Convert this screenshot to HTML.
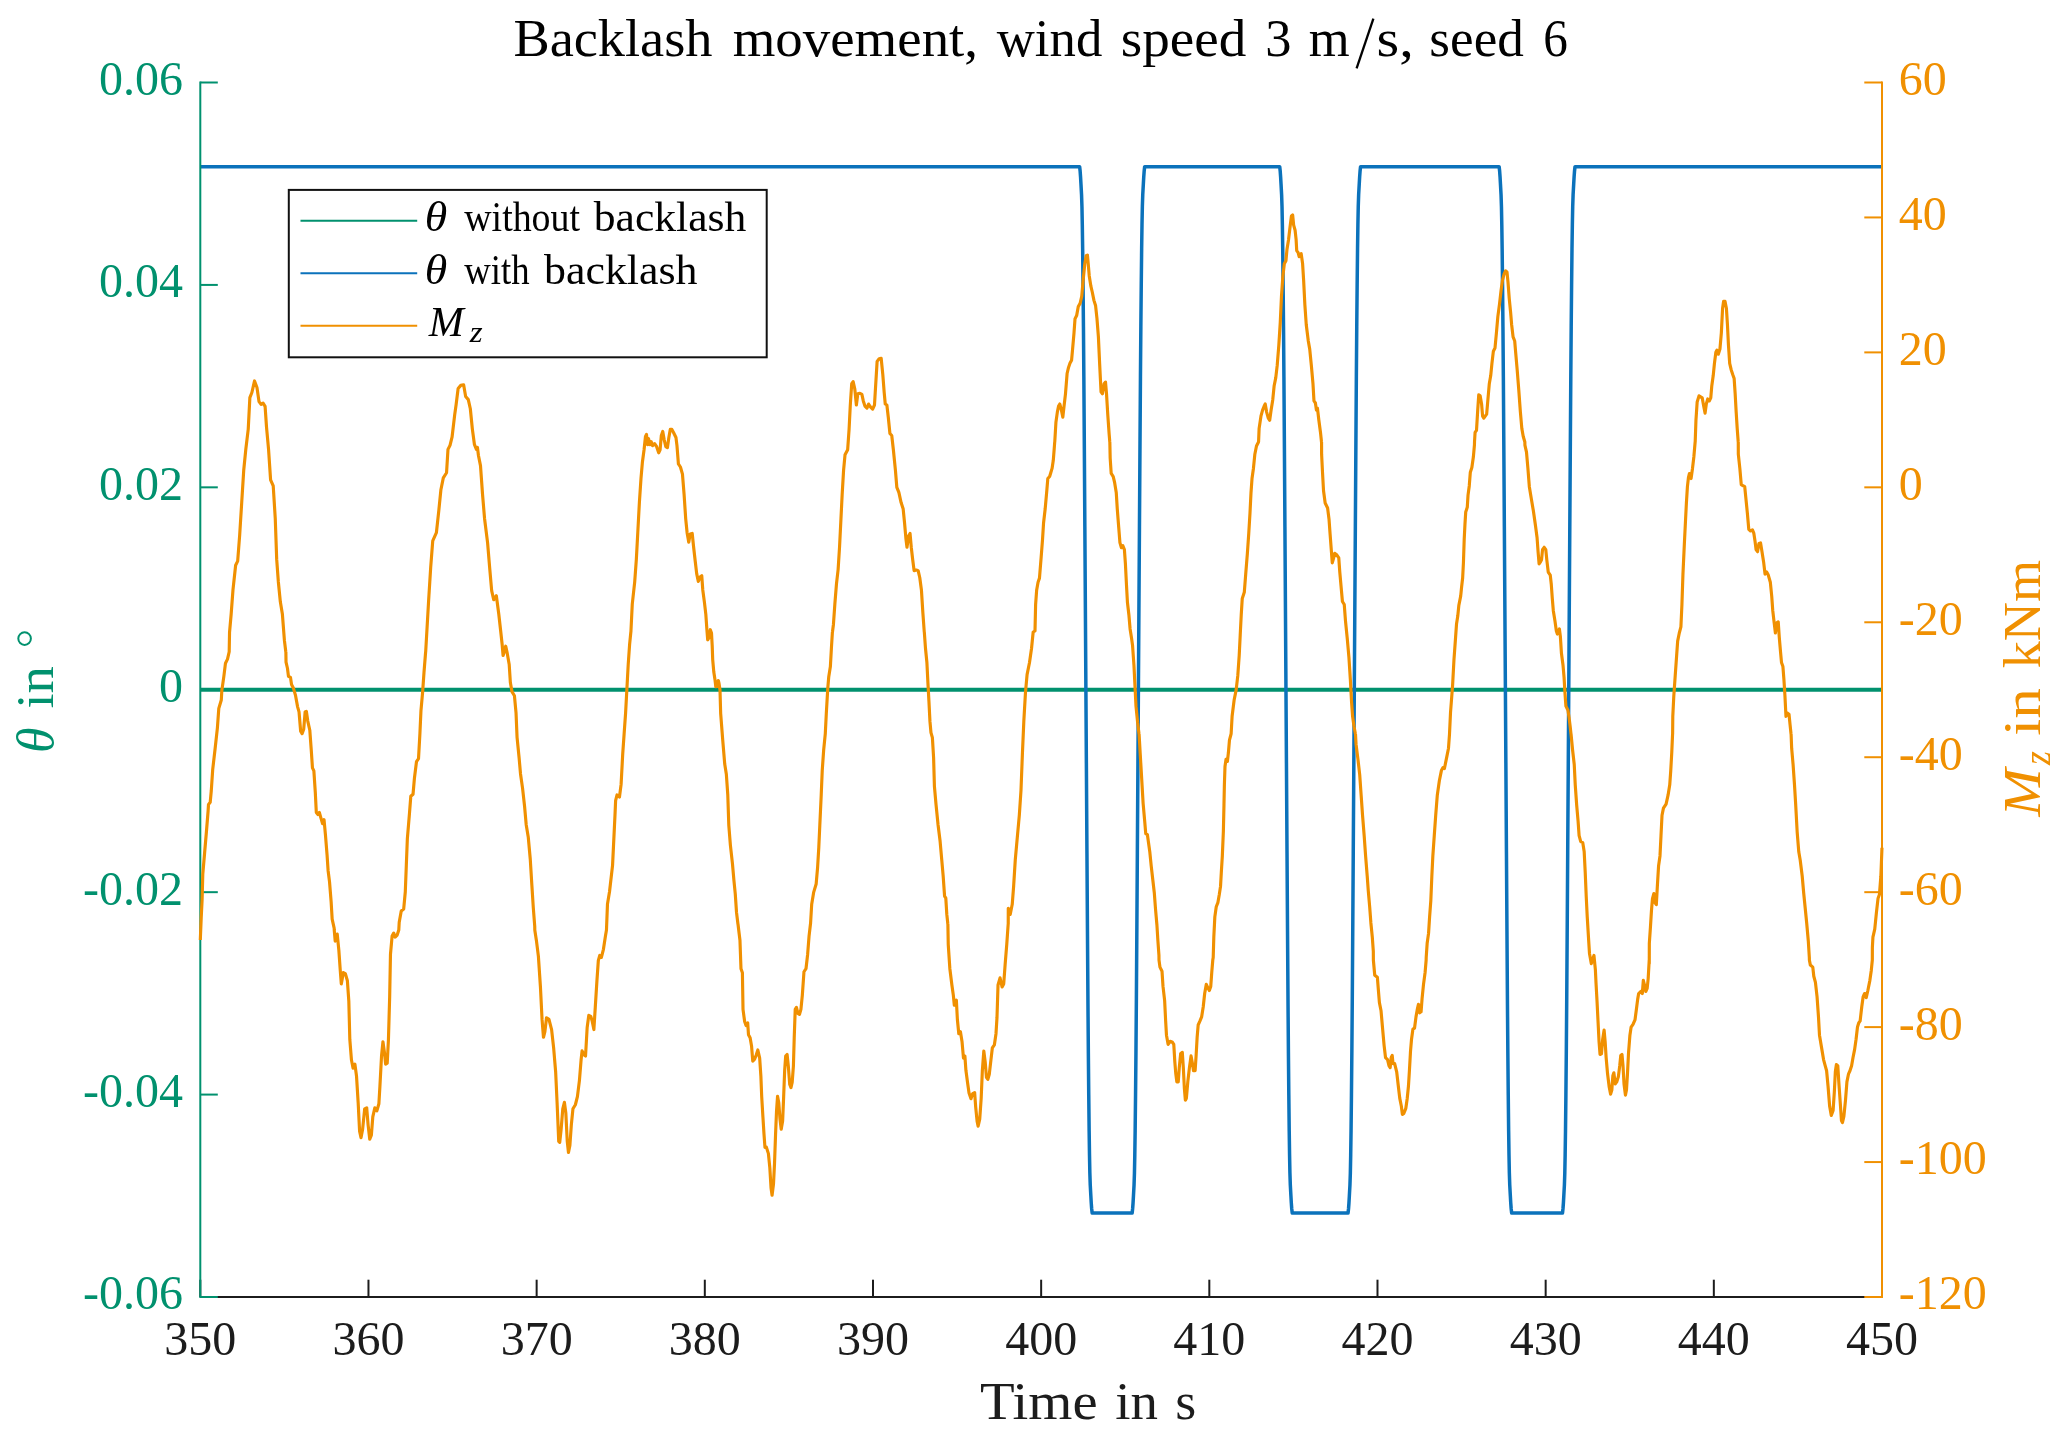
<!DOCTYPE html>
<html><head><meta charset="utf-8"><title>Backlash movement</title>
<style>html,body{margin:0;padding:0;background:#fff;}body{width:2067px;height:1437px;overflow:hidden;font-family:"Liberation Serif",serif;}</style>
</head><body>
<div id="fig" style="width:2067px;height:1437px;will-change:transform;opacity:0.999">
<svg width="2067" height="1437" viewBox="0 0 2067 1437" style="display:block">
<rect width="2067" height="1437" fill="#fff"/>
<g stroke="#1c1c1c" stroke-width="2" fill="none">
<line x1="200.3" y1="1297.0" x2="1882.0" y2="1297.0"/>
<line x1="200.30" y1="1297.0" x2="200.30" y2="1279.7"/>
<line x1="368.47" y1="1297.0" x2="368.47" y2="1279.7"/>
<line x1="536.64" y1="1297.0" x2="536.64" y2="1279.7"/>
<line x1="704.81" y1="1297.0" x2="704.81" y2="1279.7"/>
<line x1="872.98" y1="1297.0" x2="872.98" y2="1279.7"/>
<line x1="1041.15" y1="1297.0" x2="1041.15" y2="1279.7"/>
<line x1="1209.32" y1="1297.0" x2="1209.32" y2="1279.7"/>
<line x1="1377.49" y1="1297.0" x2="1377.49" y2="1279.7"/>
<line x1="1545.66" y1="1297.0" x2="1545.66" y2="1279.7"/>
<line x1="1713.83" y1="1297.0" x2="1713.83" y2="1279.7"/>
<line x1="1882.00" y1="1297.0" x2="1882.00" y2="1279.7"/>
</g>
<line x1="200.3" y1="689.65" x2="1882.0" y2="689.65" stroke="#00916e" stroke-width="4"/>
<path d="M200.30,166.80 L1079.65,166.80 L1080.15,171.30 L1080.55,176.80 L1080.95,183.80 L1081.55,194.80 L1081.95,206.80 L1082.30,224.80 L1082.65,248.80 L1083.05,284.80 L1083.45,326.80 L1083.85,376.80 L1084.35,449.80 L1084.85,526.80 L1085.90,689.90 L1086.95,853.00 L1087.45,930.00 L1087.95,1003.00 L1088.35,1053.00 L1088.75,1095.00 L1089.15,1131.00 L1089.50,1155.00 L1089.85,1173.00 L1090.25,1185.00 L1090.85,1196.00 L1091.25,1203.00 L1091.65,1208.50 L1092.15,1213.00 L1132.15,1213.00 L1132.65,1208.50 L1133.05,1203.00 L1133.45,1196.00 L1134.05,1185.00 L1134.45,1173.00 L1134.80,1155.00 L1135.15,1131.00 L1135.55,1095.00 L1135.95,1053.00 L1136.35,1003.00 L1136.85,930.00 L1137.35,853.00 L1138.40,689.90 L1139.45,526.80 L1139.95,449.80 L1140.45,376.80 L1140.85,326.80 L1141.25,284.80 L1141.65,248.80 L1142.00,224.80 L1142.35,206.80 L1142.75,194.80 L1143.35,183.80 L1143.75,176.80 L1144.15,171.30 L1144.65,166.80 L1279.72,166.80 L1280.22,171.30 L1280.62,176.80 L1281.02,183.80 L1281.62,194.80 L1282.02,206.80 L1282.37,224.80 L1282.72,248.80 L1283.12,284.80 L1283.52,326.80 L1283.92,376.80 L1284.42,449.80 L1284.92,526.80 L1285.97,689.90 L1287.02,853.00 L1287.52,930.00 L1288.02,1003.00 L1288.42,1053.00 L1288.82,1095.00 L1289.22,1131.00 L1289.57,1155.00 L1289.92,1173.00 L1290.32,1185.00 L1290.92,1196.00 L1291.32,1203.00 L1291.72,1208.50 L1292.22,1213.00 L1348.05,1213.00 L1348.55,1208.50 L1348.95,1203.00 L1349.35,1196.00 L1349.95,1185.00 L1350.35,1173.00 L1350.70,1155.00 L1351.05,1131.00 L1351.45,1095.00 L1351.85,1053.00 L1352.25,1003.00 L1352.75,930.00 L1353.25,853.00 L1354.30,689.90 L1355.35,526.80 L1355.85,449.80 L1356.35,376.80 L1356.75,326.80 L1357.15,284.80 L1357.55,248.80 L1357.90,224.80 L1358.25,206.80 L1358.65,194.80 L1359.25,183.80 L1359.65,176.80 L1360.05,171.30 L1360.55,166.80 L1499.15,166.80 L1499.65,171.30 L1500.05,176.80 L1500.45,183.80 L1501.05,194.80 L1501.45,206.80 L1501.80,224.80 L1502.15,248.80 L1502.55,284.80 L1502.95,326.80 L1503.35,376.80 L1503.85,449.80 L1504.35,526.80 L1505.40,689.90 L1506.45,853.00 L1506.95,930.00 L1507.45,1003.00 L1507.85,1053.00 L1508.25,1095.00 L1508.65,1131.00 L1509.00,1155.00 L1509.35,1173.00 L1509.75,1185.00 L1510.35,1196.00 L1510.75,1203.00 L1511.15,1208.50 L1511.65,1213.00 L1562.50,1213.00 L1563.00,1208.50 L1563.40,1203.00 L1563.80,1196.00 L1564.40,1185.00 L1564.80,1173.00 L1565.15,1155.00 L1565.50,1131.00 L1565.90,1095.00 L1566.30,1053.00 L1566.70,1003.00 L1567.20,930.00 L1567.70,853.00 L1568.75,689.90 L1569.80,526.80 L1570.30,449.80 L1570.80,376.80 L1571.20,326.80 L1571.60,284.80 L1572.00,248.80 L1572.35,224.80 L1572.70,206.80 L1573.10,194.80 L1573.70,183.80 L1574.10,176.80 L1574.50,171.30 L1575.00,166.80 L1882.00,166.80" fill="none" stroke="#0b72bb" stroke-width="3.5" stroke-linejoin="round"/>
<g stroke="#00916e" stroke-width="2" fill="none">
<line x1="200.3" y1="81.5" x2="200.3" y2="1298.0"/>
<line x1="200.3" y1="82.50" x2="217.8" y2="82.50"/>
<line x1="200.3" y1="284.92" x2="217.8" y2="284.92"/>
<line x1="200.3" y1="487.33" x2="217.8" y2="487.33"/>
<line x1="200.3" y1="689.75" x2="217.8" y2="689.75"/>
<line x1="200.3" y1="892.17" x2="217.8" y2="892.17"/>
<line x1="200.3" y1="1094.58" x2="217.8" y2="1094.58"/>
<line x1="200.3" y1="1297.00" x2="217.8" y2="1297.00"/>
</g>
<path d="M200.30,940.00 L201.20,918.00 L202.10,900.00 L202.80,874.00 L204.60,853.00 L206.40,832.00 L208.10,811.00 L208.50,804.40 L210.20,802.30 L211.30,790.50 L212.70,769.60 L215.10,748.70 L217.40,727.80 L218.80,708.40 L221.30,700.00 L221.82,690.61 L223.85,676.38 L225.48,663.18 L227.51,659.11 L229.14,652.00 L229.19,651.99 L229.54,632.28 L231.17,613.99 L233.00,589.61 L235.64,565.22 L237.67,561.16 L239.70,534.75 L241.73,502.24 L243.77,469.72 L245.80,449.40 L248.24,429.09 L249.86,397.59 L251.89,392.51 L254.54,380.93 L256.97,387.43 L259.01,401.65 L261.04,404.30 L263.07,403.08 L265.10,406.33 L266.52,427.05 L268.56,449.40 L270.59,479.88 L273.23,485.98 L275.26,518.49 L276.68,559.13 L278.31,581.48 L280.34,601.80 L282.37,613.99 L284.40,640.41 L285.83,651.99 L285.88,652.00 L286.03,662.16 L287.45,668.26 L288.47,676.38 L290.50,677.40 L291.52,684.51 L293.55,688.57 L295.58,695.69 L297.61,706.86 L299.03,711.94 L300.66,731.25 L302.08,733.68 L303.71,729.21 L305.13,711.94 L306.35,711.33 L307.77,721.09 L309.80,730.23 L311.23,749.53 L312.45,767.82 L313.87,770.87 L315.29,792.20 L316.31,812.52 L317.93,814.55 L319.35,812.52 L321.39,819.63 L322.61,823.70 L324.03,819.63 L325.45,834.87 L327.08,855.19 L328.09,870.43 L329.51,881.61 L331.14,901.93 L332.16,919.20 L334.19,928.34 L334.24,930.00 L335.20,941.18 L337.24,934.06 L338.86,950.32 L340.28,970.64 L341.30,983.85 L343.33,972.67 L345.36,973.69 L347.39,980.80 L348.82,1001.12 L349.83,1039.72 L351.46,1060.04 L353.08,1068.17 L354.91,1064.11 L356.54,1076.30 L358.16,1102.71 L359.59,1131.16 L361.01,1137.66 L362.63,1129.13 L364.67,1108.81 L366.70,1107.79 L368.12,1125.07 L369.75,1139.29 L371.37,1135.22 L372.79,1116.94 L374.83,1107.79 L376.86,1110.84 L378.89,1103.73 L379.91,1086.46 L381.53,1055.98 L382.95,1041.76 L384.38,1051.92 L385.60,1064.11 L387.22,1063.09 L388.44,1039.72 L389.66,997.05 L390.47,954.38 L392.10,936.10 L393.72,933.05 L395.15,937.11 L397.18,935.08 L398.80,930.00 L399.21,922.25 L401.24,911.07 L403.68,909.04 L405.30,891.77 L406.32,865.35 L407.34,838.94 L409.37,814.55 L410.79,796.27 L413.03,794.24 L414.45,777.98 L416.48,761.72 L418.51,758.68 L419.93,733.28 L420.95,710.93 L422.58,692.64 L424.00,672.32 L425.62,652.00 L425.67,651.99 L428.67,599.77 L430.70,567.26 L432.74,540.84 L436.39,532.71 L438.83,510.36 L440.86,490.04 L443.30,477.85 L446.55,472.77 L447.98,449.40 L450.01,445.34 L452.04,437.21 L454.68,414.86 L456.10,404.70 L458.13,388.45 L460.78,385.40 L463.62,384.79 L465.65,396.57 L468.29,399.62 L470.33,408.77 L472.36,429.09 L474.39,444.33 L476.42,449.40 L477.44,447.37 L478.45,455.50 L480.49,465.66 L482.52,494.11 L484.55,518.49 L487.60,542.87 L489.63,567.26 L491.66,590.62 L493.69,599.77 L496.34,595.70 L498.77,613.99 L500.81,632.28 L502.20,645.00 L503.10,655.50 L504.20,652.00 L505.70,646.20 L507.00,652.00 L509.20,664.50 L510.36,682.48 L511.98,691.62 L514.42,695.69 L516.04,712.96 L517.06,737.34 L519.09,757.66 L520.52,773.92 L522.55,788.14 L524.58,806.43 L526.20,824.71 L528.24,836.91 L530.27,859.26 L531.89,885.67 L533.32,908.02 L534.74,926.31 L534.79,930.00 L536.36,940.16 L538.40,956.42 L540.43,986.89 L542.05,1019.40 L543.48,1037.29 L544.90,1031.60 L546.52,1017.78 L548.96,1019.40 L551.60,1029.56 L553.64,1047.85 L555.67,1072.24 L557.09,1102.71 L558.72,1141.32 L559.73,1142.34 L561.15,1129.13 L562.78,1108.81 L564.40,1102.31 L565.83,1112.87 L567.25,1141.32 L568.47,1152.50 L569.89,1145.38 L571.31,1125.07 L572.94,1108.81 L575.38,1104.75 L577.41,1096.62 L579.44,1080.36 L581.07,1060.04 L582.08,1050.90 L584.11,1054.96 L585.54,1055.98 L587.16,1027.53 L588.79,1015.34 L590.82,1016.36 L592.24,1021.44 L593.87,1029.56 L595.29,1007.21 L596.92,980.80 L598.34,960.48 L599.76,955.40 L601.39,957.43 L603.42,949.30 L605.45,936.10 L606.47,930.00 L607.48,903.96 L609.51,891.77 L612.56,865.35 L615.00,814.87 L615.61,800.65 L617.03,794.96 L619.47,796.99 L621.10,784.39 L622.72,753.92 L624.14,733.60 L625.57,713.28 L626.79,690.93 L628.21,664.51 L629.63,644.19 L630.85,632.00 L630.90,631.99 L632.27,604.15 L634.71,581.80 L636.34,559.45 L637.76,533.03 L639.38,502.55 L641.01,478.17 L642.43,461.92 L644.06,449.72 L645.48,436.52 L646.49,434.48 L647.51,444.64 L648.53,438.55 L649.95,444.64 L651.17,441.60 L652.59,445.66 L654.62,443.63 L656.65,446.68 L658.69,452.77 L660.11,449.72 L661.33,435.50 L662.75,431.44 L664.17,439.56 L665.80,446.68 L667.42,447.69 L668.85,437.53 L670.27,429.40 L671.89,429.40 L673.52,432.45 L675.96,437.53 L676.97,445.66 L678.40,463.95 L680.43,467.00 L682.46,474.11 L684.09,494.43 L685.71,518.81 L687.13,533.03 L688.76,542.18 L690.18,534.05 L692.21,533.44 L693.64,547.26 L695.26,561.48 L696.68,573.67 L698.31,581.39 L700.34,576.72 L701.76,575.70 L702.78,589.93 L704.40,602.12 L705.83,614.31 L706.80,628.30 L707.70,639.80 L708.90,638.00 L710.30,629.70 L711.50,633.10 L712.20,645.70 L712.70,659.60 L713.80,672.10 L715.10,680.50 L715.80,686.70 L717.20,686.40 L718.30,680.50 L719.00,683.20 L720.00,690.00 L720.66,713.28 L722.69,739.69 L724.72,764.08 L726.35,774.24 L727.77,794.55 L728.79,825.03 L730.41,845.35 L732.45,863.64 L733.87,879.90 L735.29,894.12 L736.51,912.41 L737.93,923.99 L737.98,924.00 L739.96,940.26 L740.98,968.70 L742.40,972.77 L743.01,1009.34 L744.64,1021.53 L746.06,1025.60 L747.69,1022.96 L748.50,1034.74 L750.12,1037.79 L751.55,1045.92 L752.76,1061.16 L754.59,1059.12 L756.22,1055.06 L757.84,1049.98 L759.67,1058.11 L760.89,1076.39 L761.71,1096.71 L762.92,1117.03 L763.94,1133.29 L764.96,1147.51 L766.38,1147.11 L768.41,1153.61 L769.83,1167.83 L771.05,1188.15 L772.07,1195.26 L773.49,1184.09 L774.51,1163.77 L775.52,1135.32 L776.54,1110.94 L777.55,1096.31 L778.77,1102.81 L779.99,1119.07 L781.21,1129.22 L782.63,1121.10 L783.65,1096.71 L784.67,1070.30 L785.68,1056.08 L787.10,1054.45 L788.32,1066.24 L789.75,1084.52 L790.97,1087.57 L792.18,1082.49 L793.40,1066.24 L794.22,1037.79 L795.23,1009.34 L796.45,1007.31 L797.87,1013.40 L799.50,1014.42 L800.92,1009.34 L802.34,995.12 L803.97,971.75 L806.00,968.70 L807.63,954.48 L809.05,936.19 L810.47,924.00 L810.52,923.99 L811.69,904.28 L813.72,892.09 L816.16,883.96 L817.58,867.70 L818.80,847.38 L819.82,825.03 L821.24,794.55 L822.26,770.17 L823.68,749.85 L825.30,733.60 L826.32,713.28 L827.74,688.89 L828.76,676.70 L830.38,666.54 L831.40,648.26 L832.42,632.00 L832.47,631.99 L833.43,624.47 L834.85,604.15 L836.48,583.83 L838.11,569.61 L839.53,547.26 L840.95,518.81 L842.17,494.43 L843.59,470.04 L845.01,454.80 L847.66,449.72 L849.08,429.40 L850.30,405.02 L851.72,383.69 L853.14,381.65 L854.77,388.77 L856.39,405.02 L857.82,393.85 L859.85,393.24 L861.88,394.46 L863.30,400.96 L864.93,406.04 L866.96,408.07 L868.58,404.01 L870.62,407.05 L872.65,409.09 L874.48,405.02 L875.70,384.70 L877.12,361.34 L879.15,358.69 L881.18,358.29 L882.81,374.54 L884.23,392.83 L885.25,404.01 L886.87,405.02 L888.29,417.21 L889.92,433.47 L891.75,435.50 L893.37,449.72 L895.41,470.04 L896.83,487.31 L898.86,492.39 L901.10,502.55 L903.13,508.65 L904.55,522.87 L905.97,539.13 L906.99,547.26 L908.61,536.08 L910.04,533.44 L911.26,547.26 L912.68,559.45 L914.10,570.62 L916.34,570.01 L918.16,570.62 L919.79,577.74 L921.42,589.93 L922.84,612.28 L924.26,631.99 L924.31,632.00 L925.48,648.26 L926.90,662.48 L927.92,682.80 L928.93,701.09 L929.95,721.40 L930.97,732.58 L932.39,737.66 L933.61,757.98 L934.42,786.43 L936.04,804.71 L938.08,825.03 L940.11,841.29 L941.73,859.58 L943.16,875.83 L944.58,896.15 L945.80,898.18 L946.81,914.44 L947.83,923.99 L947.88,924.00 L948.24,944.32 L949.86,968.70 L951.89,984.96 L953.32,995.12 L954.33,1005.28 L956.36,1000.20 L957.38,1019.50 L958.80,1033.72 L960.43,1031.69 L962.05,1041.85 L963.48,1058.11 L964.90,1056.08 L965.91,1070.30 L967.54,1082.49 L968.96,1092.65 L970.99,1098.75 L972.62,1093.67 L974.65,1092.65 L975.67,1106.87 L977.09,1121.10 L978.11,1126.18 L979.73,1119.07 L981.15,1098.75 L982.37,1070.30 L983.80,1051.00 L985.22,1062.17 L986.44,1077.41 L987.86,1079.44 L989.28,1074.36 L990.91,1060.14 L992.33,1047.95 L994.36,1044.90 L995.99,1033.72 L997.00,1017.47 L998.02,984.96 L1000.05,977.85 L1002.08,986.99 L1003.71,983.94 L1005.13,964.64 L1006.76,944.32 L1008.18,924.00 L1008.23,923.99 L1008.28,908.34 L1010.21,914.44 L1012.24,904.28 L1013.66,885.99 L1015.29,859.58 L1017.32,837.22 L1019.35,814.87 L1020.98,790.49 L1022.40,753.92 L1023.82,721.40 L1025.45,692.96 L1027.08,674.67 L1029.51,662.48 L1031.55,648.26 L1033.17,632.00 L1035.00,630.97 L1035.61,604.55 L1036.63,590.33 L1038.05,582.20 L1039.47,578.14 L1041.10,557.82 L1042.52,539.53 L1043.53,523.28 L1045.16,509.05 L1046.79,490.77 L1047.80,478.57 L1049.63,476.54 L1050.85,472.48 L1052.07,468.42 L1053.29,460.29 L1054.10,450.13 L1054.71,442.00 L1054.76,441.99 L1055.93,422.28 L1057.35,412.12 L1058.57,406.02 L1059.79,403.99 L1061.42,410.09 L1062.84,417.20 L1064.06,406.02 L1065.48,393.83 L1067.10,373.51 L1068.53,367.42 L1069.95,363.35 L1071.57,360.30 L1072.59,349.13 L1074.01,332.87 L1075.03,318.65 L1076.65,315.60 L1078.28,306.46 L1080.11,303.41 L1081.73,296.30 L1083.16,280.04 L1084.78,263.79 L1086.20,255.66 L1087.42,255.05 L1088.24,263.79 L1089.25,275.98 L1090.88,286.14 L1092.30,292.24 L1093.93,300.36 L1095.55,305.44 L1096.97,318.65 L1098.40,336.94 L1099.62,363.35 L1101.04,391.80 L1102.46,393.83 L1104.09,383.67 L1105.51,382.05 L1106.52,393.83 L1107.74,414.15 L1109.17,434.47 L1109.78,441.99 L1109.83,442.00 L1110.18,458.26 L1111.20,473.49 L1113.23,476.54 L1114.65,482.64 L1116.28,492.80 L1117.29,509.05 L1118.72,527.34 L1119.93,542.58 L1121.36,547.66 L1122.78,545.63 L1124.40,549.69 L1125.42,563.92 L1126.44,584.24 L1127.45,602.52 L1128.88,614.71 L1130.09,628.94 L1131.52,638.08 L1132.53,645.19 L1133.96,665.51 L1134.97,685.83 L1135.99,706.15 L1137.61,722.41 L1139.03,733.99 L1139.08,734.00 L1140.25,754.32 L1141.68,778.70 L1143.10,803.09 L1144.72,821.37 L1145.74,833.56 L1147.37,834.58 L1148.38,841.69 L1149.80,851.85 L1151.23,866.08 L1152.85,880.30 L1154.27,892.49 L1155.49,908.75 L1156.92,925.00 L1157.93,941.26 L1158.95,955.48 L1159.00,960.00 L1159.96,967.11 L1162.00,971.18 L1163.01,986.42 L1164.64,1000.64 L1165.65,1020.96 L1166.47,1035.18 L1168.09,1044.33 L1170.12,1041.28 L1172.16,1041.89 L1173.78,1044.33 L1174.80,1061.60 L1175.81,1073.79 L1176.83,1081.92 L1178.25,1081.92 L1179.27,1067.69 L1180.69,1053.47 L1182.31,1052.45 L1183.33,1067.69 L1184.35,1088.01 L1185.36,1100.20 L1186.38,1098.17 L1187.80,1081.92 L1189.43,1067.69 L1191.05,1055.91 L1192.47,1063.63 L1193.49,1070.74 L1195.12,1070.74 L1196.13,1055.50 L1197.15,1037.21 L1198.16,1025.02 L1199.99,1020.96 L1201.62,1016.89 L1203.24,1006.73 L1204.67,993.53 L1206.29,984.38 L1207.71,987.43 L1209.34,990.48 L1210.76,986.42 L1211.78,972.19 L1212.79,960.00 L1213.20,957.51 L1213.81,937.19 L1214.83,916.87 L1216.25,906.71 L1217.87,902.65 L1219.30,894.52 L1220.52,886.39 L1221.33,872.17 L1222.34,855.92 L1223.36,831.53 L1223.97,805.12 L1224.38,784.80 L1224.99,766.51 L1226.00,759.40 L1227.42,761.43 L1228.44,752.29 L1229.46,740.10 L1231.08,734.00 L1231.13,733.99 L1232.10,716.31 L1234.13,700.06 L1236.16,689.90 L1237.79,675.67 L1239.21,655.35 L1240.22,635.03 L1241.24,614.71 L1242.26,598.46 L1244.29,592.36 L1245.71,574.08 L1247.34,553.76 L1248.76,533.44 L1249.98,513.12 L1250.99,492.80 L1252.01,478.57 L1253.43,468.42 L1254.85,454.19 L1256.48,446.06 L1258.51,442.00 L1258.56,441.99 L1259.12,428.37 L1260.95,416.18 L1262.58,410.09 L1264.20,406.02 L1265.22,403.99 L1266.64,412.12 L1268.27,418.21 L1269.69,420.25 L1271.11,410.09 L1272.74,399.93 L1274.16,385.70 L1275.78,377.58 L1277.21,365.38 L1278.83,345.07 L1280.25,322.71 L1281.47,296.30 L1282.90,275.98 L1284.32,263.79 L1285.94,260.74 L1286.96,249.56 L1288.58,239.40 L1290.01,227.21 L1291.43,216.04 L1292.65,215.02 L1293.66,225.18 L1295.09,230.26 L1296.10,239.40 L1296.71,250.58 L1298.13,252.61 L1299.15,256.68 L1301.18,253.63 L1302.61,263.79 L1303.62,280.04 L1304.84,304.43 L1306.26,324.75 L1308.29,341.00 L1309.72,349.13 L1311.34,365.38 L1312.97,383.67 L1313.98,400.94 L1315.41,402.98 L1316.42,410.09 L1317.44,408.06 L1318.86,420.25 L1320.49,432.44 L1321.50,441.99 L1321.55,442.00 L1321.60,454.19 L1322.52,472.48 L1323.53,490.77 L1325.16,502.96 L1327.60,508.04 L1329.02,519.21 L1330.04,533.44 L1331.26,549.69 L1332.27,562.90 L1333.69,557.82 L1334.71,553.35 L1336.74,554.77 L1338.77,557.82 L1339.79,572.04 L1341.42,590.33 L1342.43,601.51 L1344.26,604.55 L1345.48,620.81 L1347.31,639.10 L1348.93,657.38 L1350.36,679.74 L1351.57,702.09 L1352.59,716.31 L1354.01,726.47 L1355.44,733.99 L1355.49,734.00 L1356.04,744.16 L1358.08,760.42 L1359.70,774.64 L1361.12,794.96 L1362.55,815.28 L1364.17,835.60 L1365.60,855.92 L1367.22,876.24 L1368.24,890.46 L1369.66,906.71 L1370.88,922.97 L1372.30,937.19 L1373.32,951.42 L1373.37,960.00 L1374.74,975.24 L1377.38,977.27 L1378.40,990.48 L1379.41,1002.67 L1381.04,1010.80 L1382.46,1027.05 L1384.09,1045.34 L1385.51,1057.53 L1387.54,1059.56 L1388.96,1065.66 L1390.18,1067.69 L1391.20,1057.53 L1392.21,1055.50 L1393.03,1063.63 L1394.65,1063.63 L1396.68,1071.76 L1398.31,1085.98 L1399.73,1098.17 L1401.36,1106.30 L1402.37,1114.43 L1403.80,1113.41 L1405.83,1108.33 L1407.25,1098.17 L1408.47,1085.98 L1409.48,1069.72 L1410.50,1051.44 L1411.52,1039.25 L1412.94,1029.09 L1414.56,1028.07 L1415.99,1016.89 L1417.41,1008.77 L1418.43,1004.30 L1419.64,1012.83 L1421.07,1011.81 L1422.08,998.61 L1423.51,984.38 L1425.13,972.19 L1426.15,960.00 L1426.20,957.51 L1427.16,943.29 L1428.58,933.13 L1429.60,916.87 L1430.82,900.62 L1431.84,876.24 L1432.85,855.92 L1434.27,835.60 L1435.70,815.28 L1437.32,794.96 L1439.35,780.73 L1441.39,770.57 L1443.01,767.53 L1444.43,768.54 L1446.47,758.38 L1448.50,748.22 L1449.51,734.00 L1450.53,712.25 L1452.56,685.83 L1453.95,660.00 L1455.02,645.15 L1456.55,623.72 L1457.77,616.06 L1458.84,605.34 L1460.68,596.16 L1461.60,586.97 L1462.67,577.79 L1463.44,562.48 L1464.20,539.51 L1464.97,524.20 L1465.73,511.96 L1467.27,507.36 L1468.03,495.11 L1469.26,485.93 L1470.33,472.15 L1471.86,467.56 L1473.39,456.84 L1474.46,444.59 L1474.51,441.99 L1475.08,432.44 L1476.50,430.41 L1477.72,410.09 L1478.74,394.85 L1480.16,395.86 L1481.58,403.99 L1482.60,416.18 L1483.82,418.21 L1485.24,416.18 L1486.66,414.15 L1487.88,399.93 L1489.30,383.67 L1490.73,375.54 L1491.94,363.35 L1493.37,351.16 L1494.99,348.11 L1496.42,332.87 L1497.84,316.62 L1499.46,304.43 L1501.09,290.20 L1502.51,280.04 L1504.14,273.95 L1505.56,270.90 L1506.98,271.92 L1508.00,282.08 L1509.22,298.33 L1510.64,312.55 L1511.65,324.75 L1513.08,336.94 L1514.70,341.00 L1515.72,353.19 L1517.14,369.45 L1518.77,389.77 L1520.39,412.12 L1521.81,428.37 L1523.24,436.50 L1524.86,441.99 L1524.91,445.05 L1526.49,452.16 L1527.91,468.42 L1529.33,486.70 L1531.36,498.89 L1533.40,511.09 L1535.43,525.31 L1537.05,537.50 L1538.07,551.72 L1539.09,563.92 L1540.51,561.88 L1541.52,559.85 L1542.54,549.69 L1544.17,547.25 L1545.79,549.69 L1546.81,559.85 L1548.23,572.04 L1550.26,575.09 L1551.28,584.24 L1552.29,598.46 L1553.31,610.65 L1554.93,620.81 L1556.36,630.97 L1557.37,634.02 L1559.40,628.94 L1560.42,637.07 L1561.44,653.32 L1563.06,665.51 L1564.08,677.70 L1564.89,691.93 L1565.91,706.15 L1567.94,710.21 L1569.16,718.34 L1570.17,726.47 L1570.99,733.99 L1571.04,734.00 L1572.61,750.26 L1574.24,764.48 L1575.25,784.80 L1576.68,805.12 L1578.10,821.37 L1579.11,835.60 L1580.74,841.69 L1582.77,842.71 L1584.19,851.85 L1585.21,872.17 L1586.23,896.55 L1587.24,916.87 L1588.46,937.19 L1589.48,953.45 L1591.31,963.61 L1592.53,959.54 L1593.95,955.48 L1595.37,969.70 L1595.98,982.35 L1597.00,1000.64 L1598.01,1020.96 L1599.03,1041.28 L1600.04,1054.48 L1601.47,1053.88 L1602.69,1039.25 L1604.11,1030.10 L1605.12,1041.28 L1606.14,1057.53 L1607.56,1073.79 L1609.19,1087.00 L1610.61,1094.11 L1611.83,1090.04 L1612.84,1075.82 L1613.86,1072.77 L1615.28,1083.95 L1616.71,1081.92 L1618.33,1076.84 L1619.75,1065.66 L1620.77,1055.50 L1621.99,1054.48 L1623.00,1065.66 L1624.02,1083.95 L1625.44,1095.12 L1626.46,1090.04 L1627.47,1073.79 L1628.49,1053.47 L1629.91,1035.18 L1631.13,1027.05 L1633.16,1024.01 L1634.99,1019.94 L1636.21,1010.80 L1637.63,999.62 L1638.65,993.53 L1640.68,991.49 L1642.31,993.53 L1643.32,980.32 L1644.34,984.38 L1645.76,991.49 L1647.18,988.45 L1648.20,978.29 L1649.22,960.00 L1649.27,963.61 L1649.32,943.29 L1650.44,927.03 L1651.45,910.78 L1652.47,898.59 L1653.89,893.51 L1654.91,902.65 L1656.33,904.68 L1657.34,886.39 L1658.56,866.08 L1659.99,855.92 L1661.00,835.60 L1662.02,815.28 L1663.44,808.17 L1666.08,804.10 L1668.11,794.96 L1669.74,784.80 L1670.75,770.57 L1671.77,752.29 L1672.58,734.00 L1672.63,733.99 L1672.79,716.31 L1673.80,695.99 L1675.22,675.67 L1676.65,655.35 L1677.66,641.13 L1679.29,633.00 L1680.91,626.91 L1681.93,604.55 L1682.95,574.08 L1684.37,543.60 L1685.38,523.28 L1686.40,502.96 L1687.42,486.70 L1688.43,477.56 L1689.45,473.49 L1691.07,478.57 L1692.50,468.42 L1693.92,456.22 L1695.14,442.00 L1695.19,441.99 L1695.95,420.25 L1697.17,401.96 L1699.00,395.86 L1700.62,396.88 L1702.25,397.90 L1703.67,406.02 L1705.09,413.13 L1706.31,403.99 L1707.74,398.91 L1709.36,400.94 L1710.78,397.90 L1711.80,385.70 L1713.22,375.54 L1714.44,363.35 L1715.86,352.18 L1716.88,350.15 L1718.30,354.21 L1719.93,349.13 L1721.35,332.87 L1722.57,308.49 L1723.58,301.38 L1725.01,301.38 L1726.43,308.49 L1727.45,324.75 L1728.46,345.07 L1729.68,363.35 L1731.10,369.45 L1732.73,374.53 L1734.15,378.59 L1735.17,393.83 L1736.18,412.12 L1737.20,428.37 L1738.21,441.99 L1738.26,442.00 L1738.31,454.19 L1739.84,468.42 L1741.26,484.67 L1742.89,485.69 L1744.72,486.70 L1745.94,498.89 L1747.36,513.12 L1748.78,529.37 L1750.41,531.00 L1752.44,529.78 L1753.86,533.44 L1755.08,541.56 L1756.10,549.69 L1757.52,551.72 L1758.94,543.60 L1760.57,542.99 L1761.99,551.72 L1763.61,561.88 L1765.04,574.08 L1766.66,572.04 L1768.29,575.09 L1770.32,582.20 L1771.74,596.43 L1772.76,610.65 L1774.18,622.84 L1775.40,633.00 L1776.82,622.84 L1778.24,621.83 L1779.26,637.07 L1780.48,651.29 L1781.49,662.46 L1782.92,666.53 L1783.93,679.74 L1784.95,695.99 L1785.97,716.31 L1787.59,713.26 L1789.01,714.28 L1790.03,724.44 L1791.04,733.99 L1791.09,734.00 L1791.65,748.22 L1793.08,764.48 L1794.50,784.80 L1795.72,805.12 L1797.14,831.53 L1798.77,851.85 L1800.19,859.98 L1802.22,876.24 L1803.64,892.49 L1805.27,908.75 L1806.69,922.97 L1808.32,941.26 L1809.33,957.51 L1809.38,960.00 L1810.35,965.08 L1812.79,967.11 L1813.80,976.26 L1815.43,982.35 L1817.05,996.57 L1818.48,1016.89 L1819.49,1035.18 L1821.52,1047.37 L1823.56,1059.56 L1825.18,1065.66 L1826.60,1070.74 L1828.03,1085.98 L1829.65,1106.30 L1831.28,1115.44 L1833.11,1110.36 L1834.33,1092.08 L1835.34,1071.76 L1836.36,1064.64 L1837.78,1065.66 L1838.80,1081.92 L1840.22,1102.24 L1841.44,1120.52 L1842.45,1122.55 L1843.88,1116.46 L1845.50,1100.20 L1846.92,1081.92 L1848.55,1073.79 L1849.97,1070.74 L1851.60,1065.66 L1853.02,1057.53 L1854.64,1049.40 L1856.07,1039.25 L1857.49,1027.05 L1858.71,1022.99 L1860.13,1020.96 L1861.76,1006.73 L1863.18,996.57 L1864.60,993.53 L1866.23,997.59 L1867.85,990.48 L1869.88,980.32 L1871.31,970.16 L1872.32,960.00 L1872.37,947.35 L1872.93,937.19 L1874.76,929.07 L1876.39,912.81 L1878.01,898.59 L1879.43,894.52 L1880.86,876.24 L1881.97,847.79" fill="none" stroke="#f09000" stroke-width="3.15" stroke-linejoin="round" stroke-linecap="butt"/>
<g stroke="#f09000" stroke-width="2" fill="none">
<line x1="1882.0" y1="81.5" x2="1882.0" y2="1298.0"/>
<line x1="1882.0" y1="82.50" x2="1864.3" y2="82.50"/>
<line x1="1882.0" y1="217.44" x2="1864.3" y2="217.44"/>
<line x1="1882.0" y1="352.39" x2="1864.3" y2="352.39"/>
<line x1="1882.0" y1="487.33" x2="1864.3" y2="487.33"/>
<line x1="1882.0" y1="622.28" x2="1864.3" y2="622.28"/>
<line x1="1882.0" y1="757.22" x2="1864.3" y2="757.22"/>
<line x1="1882.0" y1="892.17" x2="1864.3" y2="892.17"/>
<line x1="1882.0" y1="1027.11" x2="1864.3" y2="1027.11"/>
<line x1="1882.0" y1="1162.06" x2="1864.3" y2="1162.06"/>
<line x1="1882.0" y1="1297.00" x2="1864.3" y2="1297.00"/>
</g>
<g font-family="Liberation Serif, serif" font-size="48" fill="#00916e" text-anchor="end">
<text x="183" y="94.90">0.06</text>
<text x="183" y="297.32">0.04</text>
<text x="183" y="499.73">0.02</text>
<text x="183" y="702.15">0</text>
<text x="183" y="904.57">-0.02</text>
<text x="183" y="1106.98">-0.04</text>
<text x="183" y="1309.40">-0.06</text>
</g>
<g font-family="Liberation Serif, serif" font-size="48" fill="#f09000" text-anchor="start">
<text x="1898.7" y="94.90">60</text>
<text x="1898.7" y="229.84">40</text>
<text x="1898.7" y="364.79">20</text>
<text x="1898.7" y="499.73">0</text>
<text x="1898.7" y="634.68">-20</text>
<text x="1898.7" y="769.62">-40</text>
<text x="1898.7" y="904.57">-60</text>
<text x="1898.7" y="1039.51">-80</text>
<text x="1898.7" y="1174.46">-100</text>
<text x="1898.7" y="1309.40">-120</text>
</g>
<g font-family="Liberation Serif, serif" font-size="48" fill="#1c1c1c" text-anchor="middle">
<text x="200.30" y="1355">350</text>
<text x="368.47" y="1355">360</text>
<text x="536.64" y="1355">370</text>
<text x="704.81" y="1355">380</text>
<text x="872.98" y="1355">390</text>
<text x="1041.15" y="1355">400</text>
<text x="1209.32" y="1355">410</text>
<text x="1377.49" y="1355">420</text>
<text x="1545.66" y="1355">430</text>
<text x="1713.83" y="1355">440</text>
<text x="1882.00" y="1355">450</text>
</g>
<circle cx="24.6" cy="638.6" r="6.3" fill="none" stroke="#00916e" stroke-width="2"/>
<rect x="288.8" y="189.9" width="477.9" height="167.4" fill="#fff" stroke="#111" stroke-width="2"/>
<line x1="300.5" y1="220.8" x2="417.2" y2="220.8" stroke="#00916e" stroke-width="2"/>
<line x1="300.5" y1="273.3" x2="417.2" y2="273.3" stroke="#0b72bb" stroke-width="2"/>
<line x1="300.5" y1="325.8" x2="417.2" y2="325.8" stroke="#f09000" stroke-width="2"/>
<line x1="1356.6" y1="68.3" x2="1373.4" y2="18.6" stroke="#000" stroke-width="2.3"/>
<text font-family="Liberation Serif, serif" font-size="52.8" fill="#000" x="513.42" y="56.4" textLength="199.12" lengthAdjust="spacingAndGlyphs">Backlash</text>
<text font-family="Liberation Serif, serif" font-size="52.8" fill="#000" x="732.70" y="56.4" textLength="245.35" lengthAdjust="spacingAndGlyphs">movement,</text>
<text font-family="Liberation Serif, serif" font-size="52.8" fill="#000" x="996.74" y="56.4" textLength="105.55" lengthAdjust="spacingAndGlyphs">wind</text>
<text font-family="Liberation Serif, serif" font-size="52.8" fill="#000" x="1120.86" y="56.4" textLength="125.52" lengthAdjust="spacingAndGlyphs">speed</text>
<text font-family="Liberation Serif, serif" font-size="52.8" fill="#000" x="1265.36" y="56.4" textLength="26.19" lengthAdjust="spacingAndGlyphs">3</text>
<text font-family="Liberation Serif, serif" font-size="52.8" fill="#000" x="1308.76" y="56.4" textLength="40.93" lengthAdjust="spacingAndGlyphs">m</text>
<text font-family="Liberation Serif, serif" font-size="52.8" fill="#000" x="1376.52" y="56.4" textLength="37.26" lengthAdjust="spacingAndGlyphs">s,</text>
<text font-family="Liberation Serif, serif" font-size="52.8" fill="#000" x="1429.38" y="56.4" textLength="94.45" lengthAdjust="spacingAndGlyphs">seed</text>
<text font-family="Liberation Serif, serif" font-size="52.8" fill="#000" x="1543.14" y="56.4" textLength="24.59" lengthAdjust="spacingAndGlyphs">6</text>
<text font-family="Liberation Serif, serif" font-size="52.8" fill="#1c1c1c" x="979.94" y="1419" textLength="117.73" lengthAdjust="spacingAndGlyphs">Time</text>
<text font-family="Liberation Serif, serif" font-size="52.8" fill="#1c1c1c" x="1115.18" y="1419" textLength="42.72" lengthAdjust="spacingAndGlyphs">in</text>
<text font-family="Liberation Serif, serif" font-size="52.8" fill="#1c1c1c" x="1175.38" y="1419" textLength="20.96" lengthAdjust="spacingAndGlyphs">s</text>
<text font-family="Liberation Serif, serif" font-size="43.2" fill="#000" font-style="italic" x="424.88" y="230.8" textLength="22.47" lengthAdjust="spacingAndGlyphs">θ</text>
<text font-family="Liberation Serif, serif" font-size="43.2" fill="#000" x="464.28" y="230.8" textLength="115.73" lengthAdjust="spacingAndGlyphs">without</text>
<text font-family="Liberation Serif, serif" font-size="43.2" fill="#000" x="593.78" y="230.8" textLength="152.48" lengthAdjust="spacingAndGlyphs">backlash</text>
<text font-family="Liberation Serif, serif" font-size="43.2" fill="#000" font-style="italic" x="424.88" y="283.5" textLength="22.47" lengthAdjust="spacingAndGlyphs">θ</text>
<text font-family="Liberation Serif, serif" font-size="43.2" fill="#000" x="464.28" y="283.5" textLength="65.26" lengthAdjust="spacingAndGlyphs">with</text>
<text font-family="Liberation Serif, serif" font-size="43.2" fill="#000" x="544.02" y="283.5" textLength="153.48" lengthAdjust="spacingAndGlyphs">backlash</text>
<text font-family="Liberation Serif, serif" font-size="43.2" fill="#000" font-style="italic" x="428.80" y="336.0" textLength="35.00" lengthAdjust="spacingAndGlyphs">M</text>
<text font-family="Liberation Serif, serif" font-size="30" fill="#000" font-style="italic" x="469.82" y="341.6" textLength="12.92" lengthAdjust="spacingAndGlyphs">z</text>
<text font-family="Liberation Serif, serif" font-size="52.8" fill="#00916e" font-style="italic" transform="translate(52.9,752.88) rotate(-90)" x="0" y="0" textLength="25.57" lengthAdjust="spacingAndGlyphs">θ</text>
<text font-family="Liberation Serif, serif" font-size="52.8" fill="#00916e" transform="translate(52.9,708.56) rotate(-90)" x="0" y="0" textLength="42.45" lengthAdjust="spacingAndGlyphs">in</text>
<text font-family="Liberation Serif, serif" font-size="52.8" fill="#f09000" font-style="italic" transform="translate(2040.3,816.42) rotate(-90)" x="0" y="0" textLength="47.97" lengthAdjust="spacingAndGlyphs">M</text>
<text font-family="Liberation Serif, serif" font-size="37" fill="#f09000" font-style="italic" transform="translate(2050.2,765.00) rotate(-90)" x="0" y="0" textLength="13.79" lengthAdjust="spacingAndGlyphs">z</text>
<text font-family="Liberation Serif, serif" font-size="52.8" fill="#f09000" transform="translate(2040.3,735.80) rotate(-90)" x="0" y="0" textLength="47.71" lengthAdjust="spacingAndGlyphs">in</text>
<text font-family="Liberation Serif, serif" font-size="52.8" fill="#f09000" transform="translate(2040.3,668.28) rotate(-90)" x="0" y="0" textLength="108.37" lengthAdjust="spacingAndGlyphs">kNm</text>
</svg>
</div>
</body></html>
